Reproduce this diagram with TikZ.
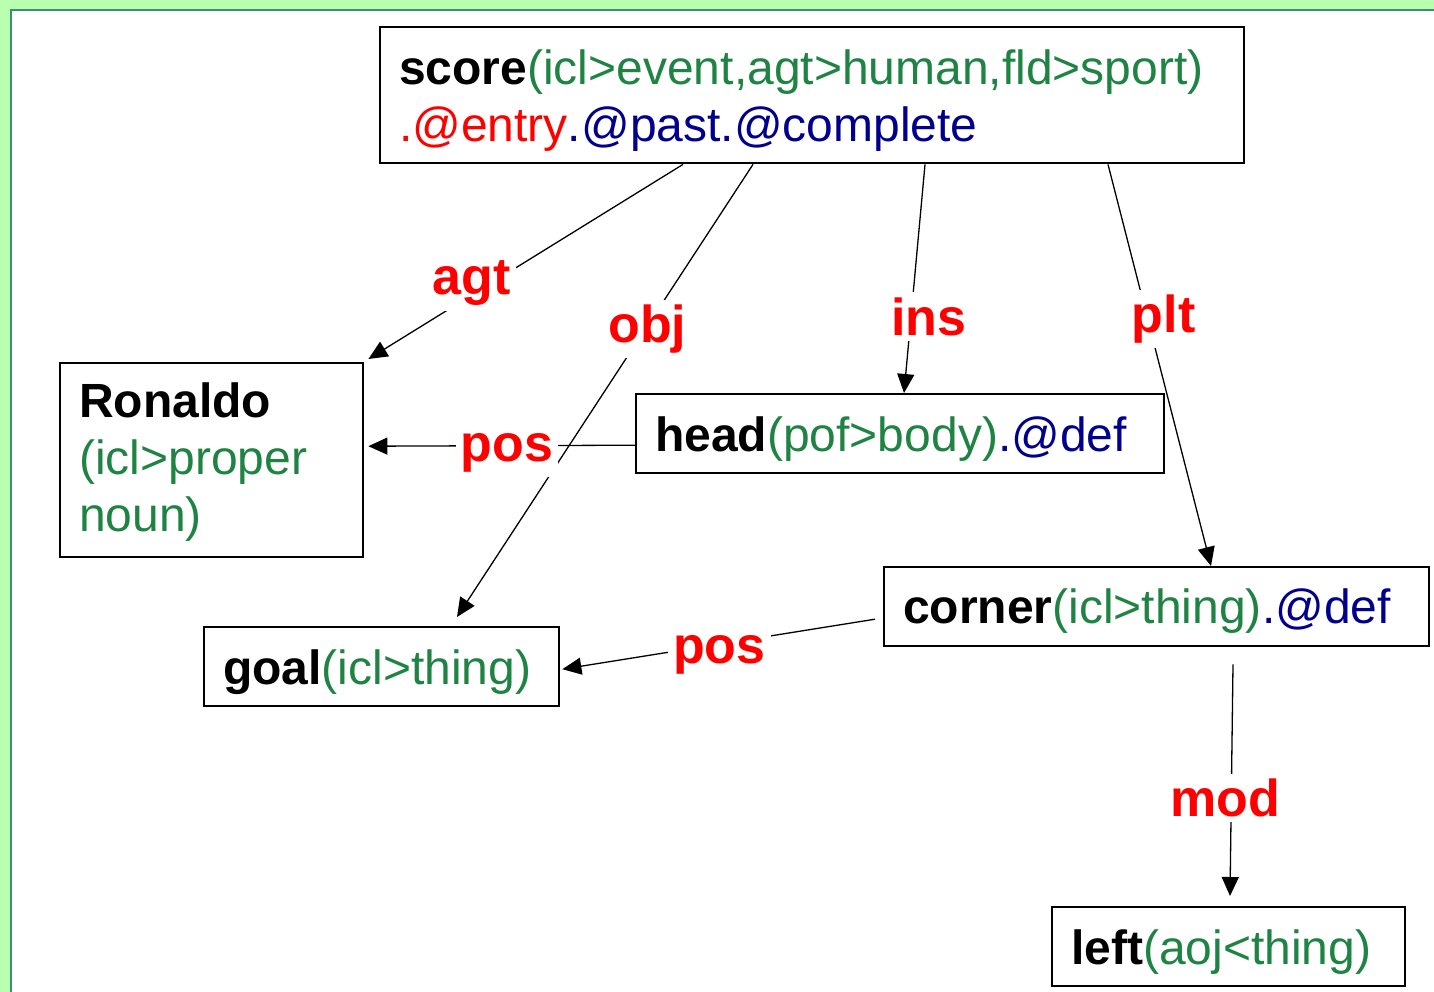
\documentclass[tikz,border=0pt]{standalone}
\usepackage{fontspec}
\setmainfont{Liberation Sans}
\usetikzlibrary{arrows.meta}
\definecolor{ugreen}{RGB}{31,132,67}
\definecolor{unavy}{RGB}{0,0,140}
\definecolor{bggreen}{RGB}{185,255,176}
\definecolor{teal2}{RGB}{60,140,120}
\newcommand\dnshift[2]{\raisebox{-#1}[\height][\depth]{#2}}
\newcommand\lines[1]{\begin{tabular}{@{}l@{}}#1\end{tabular}}
\tikzset{
  box/.style={draw=black, line width=2.4pt, anchor=north west, inner xsep=19pt, inner ysep=0pt,
    font=\fontsize{48}{57}\selectfont},
  lbl/.style={fill=white, text=red, inner sep=5pt, font=\fontsize{52}{60}\selectfont\bfseries},
  edge/.style={line width=1.3pt, -{Triangle[length=19pt,width=17pt]}},
}
\begin{document}
\begin{tikzpicture}[x=1pt,y=-1pt]
\useasboundingbox (0,0) rectangle (1434,992);
\fill[bggreen] (0,0) rectangle (1434,992);
\filldraw[fill=white, draw=teal2, line width=2pt] (11,10) rectangle (1450,1010);

\node[box, text width=826pt, minimum height=136pt] (score) at (379,26)
  {\dnshift{6pt}{\lines{\textbf{score}\textcolor{ugreen}{(icl>event,agt>human,fld>sport)}\\\textcolor{red}{.@entry}\textcolor{unavy}{.@past.@complete}}}};
\node[box, text width=265pt, minimum height=194pt] (ron) at (59,362)
  {\dnshift{3pt}{\lines{\textbf{Ronaldo}\\\textcolor{ugreen}{(icl>proper}\\\textcolor{ugreen}{noun)}}}};
\node[box, text width=490pt, minimum height=79pt] (head) at (635,393)
  {\dnshift{5pt}{\textbf{head}\textcolor{ugreen}{(pof>body)}\textcolor{unavy}{.@def}}};
\node[box, text width=507pt, minimum height=79pt] (corner) at (883,566)
  {\dnshift{4pt}{\textbf{corner}\textcolor{ugreen}{(icl>thing)}\textcolor{unavy}{.@def}}};
\node[box, text width=317pt, minimum height=79pt] (goal) at (203,626)
  {\dnshift{5pt}{\textbf{goal}\textcolor{ugreen}{(icl>thing)}}};
\node[box, text width=315pt, minimum height=79pt] (left) at (1051,906)
  {\dnshift{5pt}{\textbf{left}\textcolor{ugreen}{(aoj<thing)}}};

\draw[edge] ([xshift=304pt]score.south west) -- ([xshift=4pt,yshift=3pt]ron.north east)
  node[lbl, pos=0.672, yshift=12pt] {agt};
\draw[edge] ([xshift=374pt]score.south west) -- ([xshift=254pt,yshift=9pt]goal.north west)
  node[lbl, pos=0.357, yshift=-3pt] {obj};
\draw[edge] ([xshift=546pt]score.south west) -- ([xshift=269pt]head.north west)
  node[lbl, pos=0.665, xshift=18pt] {ins};
\draw[edge] ([xshift=729pt]score.south west) -- ([xshift=328pt]corner.north west)
  node[lbl, pos=0.385, xshift=16pt] {plt};
\draw[edge] ([yshift=-11.5pt]head.west) -- ([xshift=4pt,yshift=14pt]ron.east)
  node[lbl, pos=0.48, yshift=-7pt] {pos};
\draw[edge] ([xshift=-8pt,yshift=-12.5pt]corner.west) -- ([xshift=2pt,yshift=-2.5pt]goal.east)
  node[lbl, pos=0.498, yshift=-11pt] {pos};
\draw[edge] ([xshift=350pt,yshift=-17pt]corner.south west) -- ([xshift=179pt,yshift=10pt]left.north west)
  node[lbl, pos=0.577, xshift=-6pt] {mod};
\end{tikzpicture}
\end{document}
